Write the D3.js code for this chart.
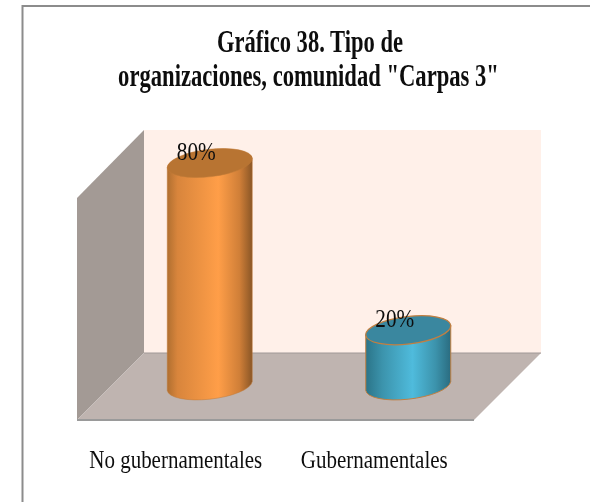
<!DOCTYPE html>
<html><head><meta charset="utf-8">
<script src="https://cdn.jsdelivr.net/npm/d3@7"></script>
<style>html,body{margin:0;padding:0;background:#fff;overflow:hidden}svg{display:block}</style>
</head><body><svg id="c" width="590" height="502"></svg>
<script>
const categories = ["No gubernamentales", "Gubernamentales"];
const values = [80, 20];
const valueLabels = ["80%", "20%"];
const titleLines = ["Gráfico 38. Tipo de", "organizaciones, comunidad \"Carpas 3\""];

const serif = "'Liberation Serif','Times New Roman',serif";
const svg = d3.select("#c");
const frontL = 77, frontR = 474, frontY = 420, depthX = 67, depthY = 67;
const x = d3.scaleBand().domain(categories).range([frontL, frontR]);
const h = d3.scaleLinear().domain([0, 80]).range([0, 223]);
const floorBackY = frontY - depthY;

// squeeze a text to a target width around its anchor point
function fit(sel, cxs, ys, widths) {
  sel.attr("text-anchor", "middle").attr("x", 0).attr("y", 0)
    .attr("transform", function(d, i) {
      const sx = widths[i] / this.getComputedTextLength();
      return `translate(${cxs[i]},${ys[i]}) scale(${sx},1)`;
    });
}

// frame
svg.append("path").attr("d", "M22.5,502V6H590").attr("fill", "none").attr("stroke", "#8c8c8c").attr("stroke-width", 2);

// gradients
const defs = svg.append("defs");
const grads = [
  {id: "g0", stops: [["0%", "#b06f30"], ["12%", "#d8853c"], ["60%", "#ff9e48"], ["85%", "#d07f38"], ["100%", "#8a5626"]]},
  {id: "g1", stops: [["0%", "#2b7488"], ["20%", "#3c94ad"], ["55%", "#4fbbdc"], ["82%", "#3c93ac"], ["100%", "#2a6c80"]]}
];
grads.forEach(g => {
  const lg = defs.append("linearGradient").attr("id", g.id).attr("x1", 0).attr("x2", 1).attr("y1", 0).attr("y2", 0);
  g.stops.forEach(s => lg.append("stop").attr("offset", s[0]).attr("stop-color", s[1]));
});
defs.append("filter").attr("id", "soft").append("feGaussianBlur").attr("stdDeviation", 0.35);
const topColors = ["#b87432", "#3a879f"];
const edgeColors = ["#c07a38", "#c17f42"];

// walls
const walls = svg.append("g");
walls.append("polygon").attr("fill", "#fff0e9")
  .attr("points", [[frontL+depthX, frontY-depthY-h(80)], [frontR+depthX, frontY-depthY-h(80)], [frontR+depthX, floorBackY], [frontL+depthX, floorBackY]].join(" "));
walls.append("polygon").attr("fill", "#a39a95")
  .attr("points", [[frontL, frontY-h(80)+1], [frontL+depthX, floorBackY-h(80)], [frontL+depthX, floorBackY], [frontL, frontY]].join(" "));
walls.append("polygon").attr("fill", "#bfb4b0")
  .attr("points", [[frontL+depthX, floorBackY], [frontR+depthX, floorBackY], [frontR, frontY], [frontL, frontY]].join(" "));
walls.append("line").attr("x1", frontL+depthX).attr("x2", frontR+depthX).attr("y1", floorBackY).attr("y2", floorBackY).attr("stroke", "#a09896").attr("stroke-width", 1);
walls.append("line").attr("x1", frontL).attr("x2", frontR).attr("y1", frontY).attr("y2", frontY).attr("stroke", "#9a9a9a").attr("stroke-width", 2);

// cylinders
const rx = 42.8, ry = 13.7, rot = -6.7, tipX = 42.5, tipY = 4.5, baseY = 386, shift = depthX / 2;
const barCx = c => x(c) + x.bandwidth() / 2 + shift;
const bars = svg.append("g").selectAll("g").data(categories).join("g");
bars.each(function(c, i) {
  const g = d3.select(this);
  const cx = barCx(c);
  const ty = baseY - h(values[i]);
  const arc = `${rx} ${ry} ${rot}`;
  g.append("path")
    .attr("d", `M${cx-tipX},${ty+tipY}L${cx-tipX},${baseY+tipY}A${arc} 0 0 ${cx+tipX},${baseY-tipY}L${cx+tipX},${ty-tipY}A${arc} 0 0 ${cx-tipX},${ty+tipY}Z`)
    .attr("fill", `url(#g${i})`).attr("stroke", edgeColors[i]).attr("stroke-width", i ? 1 : 0.5);
  g.append("ellipse").attr("rx", rx).attr("ry", ry)
    .attr("transform", `translate(${cx},${ty}) rotate(${rot})`)
    .attr("fill", topColors[i]).attr("stroke", edgeColors[i]).attr("stroke-width", i ? 1.3 : 0.5);
});

// value labels
svg.append("g").attr("filter", "url(#soft)").selectAll("text").data(valueLabels).join("text")
  .text(d => d)
  .attr("font-family", serif).attr("font-size", 25).attr("fill", "#111")
  .call(fit,
    categories.map(c => barCx(c) - 13.5),
    values.map(v => baseY - h(v) - 3.5),
    [39, 39]);

// category axis
const axis = svg.append("g").attr("transform", `translate(0,${frontY})`).attr("filter", "url(#soft)")
  .call(d3.axisBottom(x).tickSize(0).tickPadding(31));
axis.select(".domain").remove();
const catTexts = axis.selectAll("text").attr("font-family", serif).attr("font-size", 25).attr("fill", "#111").attr("dy", 0);
catTexts.call(fit, [-0.5, -0.5], [48, 48], [173, 147]);

// title
svg.append("g").attr("filter", "url(#soft)").selectAll("text").data(titleLines).join("text")
  .text(d => d)
  .attr("font-family", serif).attr("font-weight", "bold").attr("font-size", 31).attr("fill", "#111")
  .call(fit, [310, 308.5], [52, 86], [186, 381]);
</script></body></html>
